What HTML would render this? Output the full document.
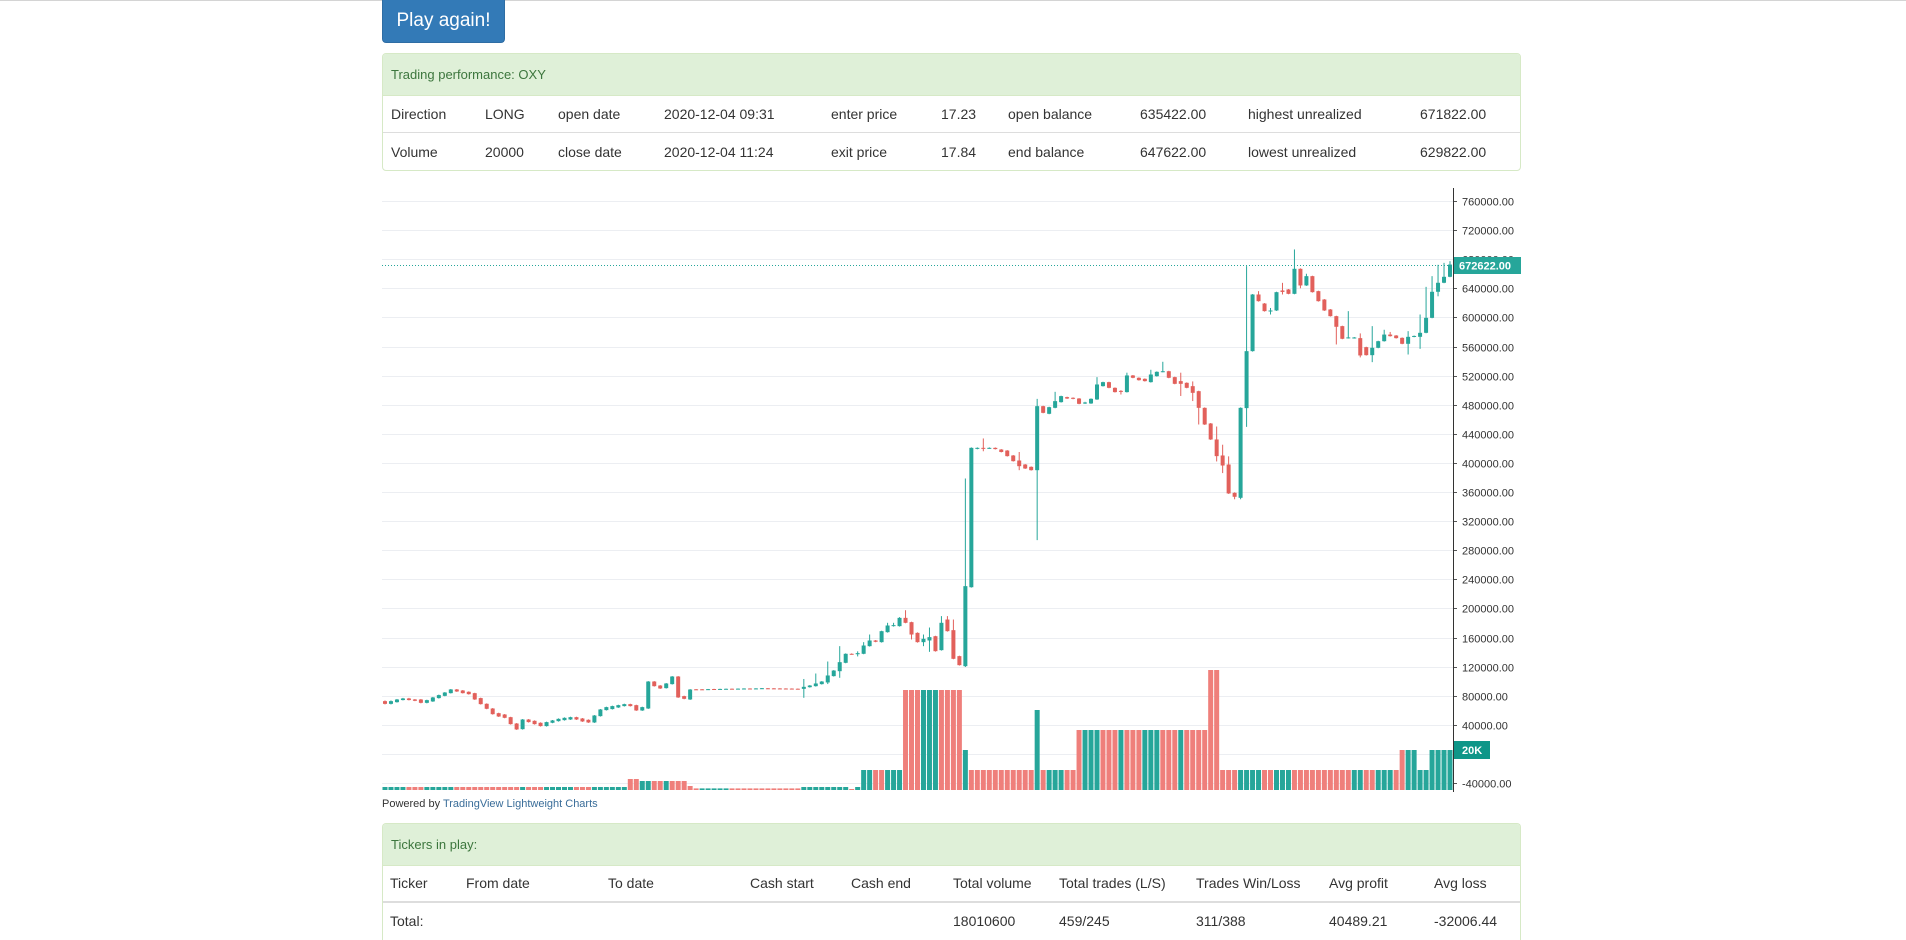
<!DOCTYPE html>
<html><head><meta charset="utf-8"><title>Trading performance</title>
<style>
html{margin:0;padding:0;width:1906px;height:940px;overflow:hidden;background:#fff;}
body{margin:0;padding:0;background:#fff;width:1906px;height:940px;overflow:hidden;position:relative;font-family:"Liberation Sans",Arial,sans-serif;color:#333;}
.abs{position:absolute;}
.topline{left:0;top:0;width:1906px;height:1px;background:#d4d4d4;}
.btn{left:382px;top:0;width:121px;height:42px;background:#337ab7;border:1px solid #2e6da4;border-top:none;border-radius:0 0 4px 4px;color:#fff;font-size:19px;line-height:42px;text-align:center;}
.panel{left:382px;width:1137px;border:1px solid #d6e9c6;border-radius:4px;background:#fff;overflow:hidden;}
.ph{position:absolute;left:0;top:0;width:100%;height:41px;background:#dff0d8;border-bottom:1px solid #d6e9c6;color:#3c763d;font-size:13px;line-height:41px;}
.ph span{position:absolute;left:8px;}
.cell{position:absolute;font-size:14px;white-space:nowrap;transform:translateY(-50%);}
.rowline{position:absolute;left:0;width:100%;height:1px;background:#ddd;}
.powered{left:382px;top:798px;font-size:11px;color:#333;}
.powered a{color:#3a6d99;text-decoration:none;}
</style></head>
<body>
<div class="abs topline"></div>
<div class="abs btn">Play again!</div>

<div class="abs panel" style="top:53px;height:116px;">
  <div class="ph"><span>Trading performance: OXY</span></div>
  <div class="cell" style="left:8px;top:60px">Direction</div>
  <div class="cell" style="left:102px;top:60px">LONG</div>
  <div class="cell" style="left:175px;top:60px">open date</div>
  <div class="cell" style="left:281px;top:60px">2020-12-04 09:31</div>
  <div class="cell" style="left:448px;top:60px">enter price</div>
  <div class="cell" style="left:558px;top:60px">17.23</div>
  <div class="cell" style="left:625px;top:60px">open balance</div>
  <div class="cell" style="left:757px;top:60px">635422.00</div>
  <div class="cell" style="left:865px;top:60px">highest unrealized</div>
  <div class="cell" style="left:1037px;top:60px">671822.00</div>
  <div class="rowline" style="top:78px"></div>
  <div class="cell" style="left:8px;top:98px">Volume</div>
  <div class="cell" style="left:102px;top:98px">20000</div>
  <div class="cell" style="left:175px;top:98px">close date</div>
  <div class="cell" style="left:281px;top:98px">2020-12-04 11:24</div>
  <div class="cell" style="left:448px;top:98px">exit price</div>
  <div class="cell" style="left:558px;top:98px">17.84</div>
  <div class="cell" style="left:625px;top:98px">end balance</div>
  <div class="cell" style="left:757px;top:98px">647622.00</div>
  <div class="cell" style="left:865px;top:98px">lowest unrealized</div>
  <div class="cell" style="left:1037px;top:98px">629822.00</div>
</div>

<svg class="abs" style="left:0;top:0" width="1906" height="820" id="chart"></svg>

<div class="abs powered">Powered by <a>TradingView Lightweight Charts</a></div>

<div class="abs panel" style="top:823px;height:117px;border-bottom:none;border-radius:4px 4px 0 0;">
  <div class="ph"><span>Tickers in play:</span></div>
  <div class="cell" style="left:7px;top:59px">Ticker</div>
  <div class="cell" style="left:83px;top:59px">From date</div>
  <div class="cell" style="left:225px;top:59px">To date</div>
  <div class="cell" style="left:367px;top:59px">Cash start</div>
  <div class="cell" style="left:468px;top:59px">Cash end</div>
  <div class="cell" style="left:570px;top:59px">Total volume</div>
  <div class="cell" style="left:676px;top:59px">Total trades (L/S)</div>
  <div class="cell" style="left:813px;top:59px">Trades Win/Loss</div>
  <div class="cell" style="left:946px;top:59px">Avg profit</div>
  <div class="cell" style="left:1051px;top:59px">Avg loss</div>
  <div class="rowline" style="top:77px;height:2px"></div>
  <div class="cell" style="left:7px;top:97px">Total:</div>
  <div class="cell" style="left:570px;top:97px">18010600</div>
  <div class="cell" style="left:676px;top:97px">459/245</div>
  <div class="cell" style="left:813px;top:97px">311/388</div>
  <div class="cell" style="left:946px;top:97px">40489.21</div>
  <div class="cell" style="left:1051px;top:97px">-32006.44</div>
</div>

<script>
const opens=[72500,68800,71100,74000,76200,74800,74800,70200,72100,76700,
79800,83500,88600,87200,85400,83500,76700,68900,62400,56000,
54200,50500,41800,34000,47300,45500,42800,38200,42800,45000,
46400,47300,50500,48700,46900,43200,51900,60200,61600,63800,
65700,68400,67000,59700,62400,99500,94000,90400,95900,106400,
79400,74800,88800,88800,88500,89200,88800,89000,89600,89200,
89400,89900,89500,89800,90200,90100,90000,89900,89800,89600,
89400,91700,93100,95900,98200,106900,113700,125200,137600,137000,
137600,148100,155900,153600,167300,175600,175600,187000,181100,166400,
153600,155900,161800,142600,184700,170100,134400,120600,229100,419300,
420700,420000,420700,418400,417000,410200,403300,397800,394600,390000,
478000,467500,475700,483500,490400,489500,488500,482000,481700,487200,
505500,511000,503200,499000,497300,520200,517000,515600,511000,519200,
525200,526000,517900,512400,510100,505500,498600,475700,454200,432200,
410200,397800,358900,352000,475300,553600,631500,619100,608600,609500,
637000,638400,632400,666800,643900,656700,636100,624600,610900,601700,
588000,571500,571500,571500,559100,548100,558200,567300,576400,575100,
571900,563700,573300,573300,578800,599400,635200,647600,655800];
const closes=[68800,72500,74800,76200,74000,73000,70200,73900,77600,80800,
84400,88600,85800,83500,82100,74800,68400,62000,54600,51400,
49600,40900,33600,47300,43700,40900,38200,43700,46000,48200,
49600,50500,47300,44600,43200,52800,61100,64300,65700,67000,
68400,65700,59700,64300,99500,93100,89900,96800,106400,77600,
75700,88500,88300,88400,89000,88700,89300,89500,89100,89700,
89900,89500,90000,90300,89800,89700,89600,89500,89400,89200,
92200,94000,96800,99500,107800,114600,126100,137600,137000,138500,
149000,155900,154100,168700,176500,177000,187000,180200,164100,153600,
158200,160500,141200,180200,168700,130700,122000,230600,420700,420700,
420000,420700,419000,415000,409300,402400,395500,392300,390000,478000,
468800,476600,484900,491800,488500,488100,481200,483000,488100,507800,
511000,503200,497300,498000,520200,517000,513700,512400,521500,525200,
526000,517000,508700,508700,503200,496300,475700,452800,432200,409300,
396400,358000,353400,475700,553600,631500,622300,608600,609500,634700,
635000,632400,666800,643900,656700,634700,622300,609500,601700,587100,
570600,572500,572400,547700,548100,558200,567300,576400,574200,571500,
563700,573300,574500,578800,599400,635200,647600,655800,672622];
const highs=[73500,73500,75500,77000,77000,75500,75500,74500,78300,81500,
85000,89200,89200,87800,86000,84000,77300,69500,63000,56600,
54800,51000,42400,47900,47900,46100,43400,44300,46600,48800,
50200,51100,51100,49300,47500,53400,61700,64900,66300,67600,
69000,69000,67600,64900,100100,100100,94600,97400,107000,107000,
80000,89100,89100,89100,89300,89500,89600,89800,89900,90000,
90200,90200,90300,90600,90500,90400,90300,90200,90100,89900,
103000,94600,110500,100100,127000,115200,148100,138200,138200,141000,
153600,164100,156500,169300,180200,180200,188000,197500,181700,167000,
164100,173700,162400,189400,189400,184700,135000,378600,421300,421300,
433600,421300,421300,419000,417600,410800,415000,398400,395200,488000,
478600,477200,497700,492400,491000,490100,489100,484000,488700,517900,
511600,511600,503800,500000,524000,520800,517600,516200,528000,525800,
539000,526600,518500,524000,510700,512000,499200,476300,454800,450000,
425000,409000,359500,476300,670400,632100,636100,619700,613000,635300,
647500,639000,693400,667400,660000,657300,636700,625200,611500,602300,
588600,608600,573000,578000,559700,588000,567900,583000,580000,575700,
572500,581100,575100,604000,642000,656700,672300,675000,677300];
const lows=[68000,68000,70500,73500,73500,72500,69500,69500,71500,76000,
79200,83000,85200,83000,81500,74200,67800,61400,54000,50800,
49000,40300,33000,33400,43100,40300,37600,37600,42200,44400,
45800,46700,46700,44000,42600,42600,51300,59600,61000,63200,
65100,65100,59100,59100,61800,92500,89300,89800,95300,77000,
75100,74200,88000,88100,88200,88400,88500,88700,88800,88900,
89100,89200,89200,89500,89500,89400,89300,89200,89100,88900,
77100,91100,92500,95300,96000,106300,104600,124600,136400,134000,
137000,147500,153500,153000,166700,175000,175000,179600,157300,153000,
148100,140300,140600,142000,168100,130100,121400,119500,228500,418700,
416000,419400,418400,414400,408700,401800,390000,391700,389400,293800,
468200,466900,475100,482900,487900,487500,480600,481000,481100,486600,
504900,502600,496700,494000,496700,516400,513100,511800,510400,518600,
524600,516400,508100,492000,502600,485000,452800,452200,431600,402000,
386000,357400,350000,350000,449600,553000,621700,608000,604000,608900,
631500,631800,631800,640000,643300,634100,621700,608900,601100,562800,
570000,570900,570900,545000,547500,538500,557600,566700,573600,570900,
563100,549000,572700,556800,578200,598800,629000,647000,655200];
const volumes=[1500,1500,1500,1500,1500,1500,1500,1500,1500,1500,
1500,1500,1500,1500,1500,1500,1500,1500,1500,1500,
1500,1500,1500,1500,1500,1500,1500,1500,1500,1500,
1500,1500,1500,1500,1500,1500,1500,1500,1500,1500,
1500,5500,5500,4500,4500,4500,4500,4500,4500,4500,
4500,2000,800,800,800,800,800,800,800,800,
800,800,800,800,800,800,800,800,800,800,
1500,1500,1500,1500,1500,1500,1500,1500,500,1500,
10000,10000,10000,10000,10000,10000,10000,50000,50000,50000,
50000,50000,50000,50000,50000,50000,50000,20000,10000,10000,
10000,10000,10000,10000,10000,10000,10000,10000,10000,40000,
10000,10000,10000,10000,10000,10000,30000,30000,30000,30000,
30000,30000,30000,30000,30000,30000,30000,30000,30000,30000,
30000,30000,30000,30000,30000,30000,30000,30000,60000,60000,
10000,10000,10000,10000,10000,10000,10000,10000,10000,10000,
10000,10000,10000,10000,10000,10000,10000,10000,10000,10000,
10000,10000,10000,10000,10000,10000,10000,10000,10000,10000,
20000,20000,20000,10000,10000,20000,20000,20000,20000];
const volDirs="uuuuddduuu"+"uudddddddd"+"ddduddduuu"+"uuddduuuuu"+"udduudduddd".slice(0,10)+
"ddduuuuudd"+"dddddddddd"+"uuuuuuuudu"+"uudduuuddd"+"uuuddddudd"+"dddddddddu"+
"duuuddduuu"+"ddduddduuu"+"dddudddddd"+"ddduuuuddu"+"uudddddddd"+"dduudduuud"+"duuuuuuuu";
const priceTicks=[760000,720000,680000,640000,600000,560000,520000,480000,440000,400000,360000,320000,280000,240000,200000,160000,120000,80000,40000,0,-40000];
const lastPrice=672622;
const lastVolumeLabel="20K";

const NS="http://www.w3.org/2000/svg";
const svg=document.getElementById('chart');
const X0=382, X1=1453, N=closes.length, STEP=(X1-X0)/N;
function xC(i){return X0+STEP*(i+0.5);}
function yP(v){return 201+(760000-v)*29.1/40000;}
const VBASE=790;
function hV(v){return v*0.002;}
function mk(tag,attrs){const e=document.createElementNS(NS,tag);for(const k in attrs)e.setAttribute(k,attrs[k]);svg.appendChild(e);return e;}

priceTicks.forEach(t=>{
  const y=Math.round(yP(t))+0.5;
  const g=mk('line',{x1:X0,x2:X1,y1:y,y2:y,stroke:'#eceef2','stroke-width':1});
  
  
  const tk=mk('line',{x1:X1,x2:X1+4,y1:y,y2:y,stroke:'#555','stroke-width':1});
  
  
  const tx=mk('text',{x:X1+9,y:y+4,'font-size':11,fill:'#333','font-family':'Liberation Sans, Arial, sans-serif'});
  tx.textContent=t.toFixed(2);
  
  
});
const ax=mk('line',{x1:X1+0.5,x2:X1+0.5,y1:188,y2:792,stroke:'#333','stroke-width':1});



for(let i=0;i<N;i++){
  const h=hV(volumes[i]);
  const r=mk('rect',{x:xC(i)-2.5,y:VBASE-h,width:5,height:h,fill:volDirs[i]==='u'?'#26a69a':'#ef7f7b'});
  
  
}
for(let i=0;i<N;i++){
  const up=closes[i]>=opens[i];
  const col=up?'#26a69a':'#e2605b';
  const x=xC(i);
  const w=mk('line',{x1:x,x2:x,y1:yP(highs[i]),y2:yP(lows[i]),stroke:col,'stroke-width':1});
  
  
  const top=yP(Math.max(opens[i],closes[i])), bot=yP(Math.min(opens[i],closes[i]));
  const b=mk('rect',{x:x-2,y:top,width:4,height:Math.max(1,bot-top),fill:col});
  
  
}
const ly=Math.round(yP(lastPrice))+0.5;
const pl=mk('line',{x1:X0,x2:X1,y1:ly,y2:ly,stroke:'#26a69a','stroke-width':1,'stroke-dasharray':'1 2'});


const pb=mk('rect',{x:X1+1,y:ly-8.5,width:67,height:17,fill:'#26a69a'});


const pt=mk('text',{x:X1+6,y:ly+4,'font-size':11,'font-weight':'bold',fill:'#fff','font-family':'Liberation Sans, Arial, sans-serif'});
pt.textContent=lastPrice.toFixed(2);


const vy=VBASE-hV(volumes[N-1]);
const vb=mk('rect',{x:X1+1,y:vy-9,width:36,height:18,fill:'#0f9688'});


const vt=mk('text',{x:X1+9,y:vy+4,'font-size':11,'font-weight':'bold',fill:'#fff','font-family':'Liberation Sans, Arial, sans-serif'});
vt.textContent=lastVolumeLabel;


</script>
</body></html>
